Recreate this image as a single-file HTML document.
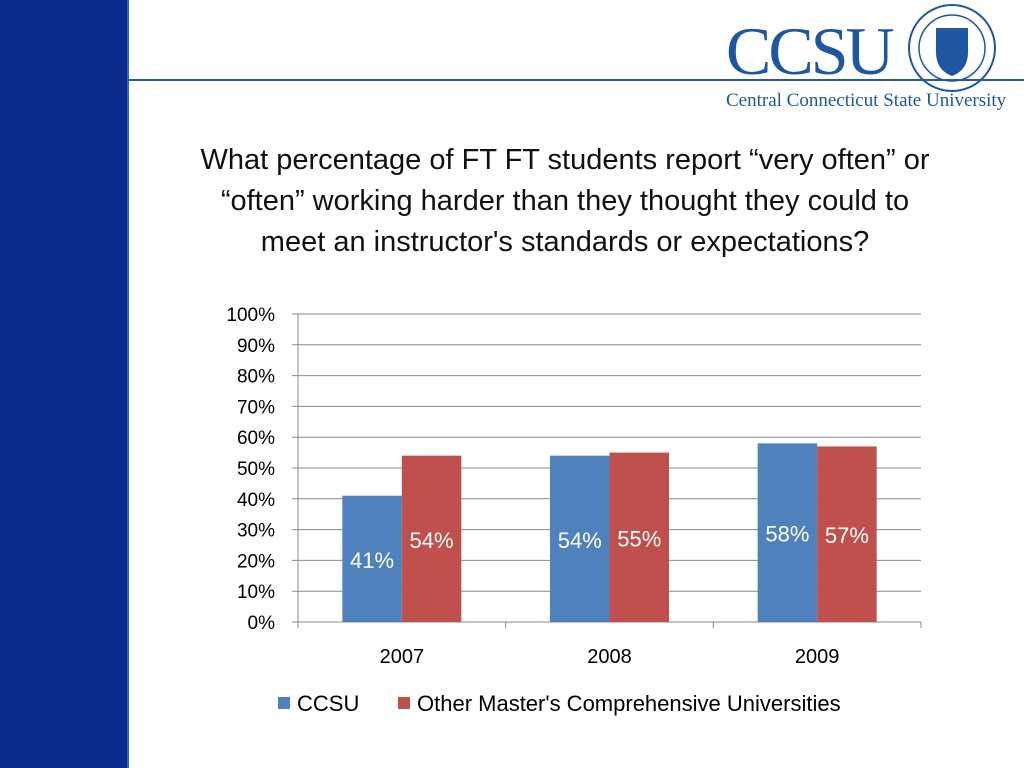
<!DOCTYPE html>
<html><head><meta charset="utf-8"><style>
body{margin:0;width:1024px;height:768px;overflow:hidden;background:#fff;font-family:"Liberation Sans",sans-serif;position:relative}
</style></head><body>
<div style="position:absolute;left:0;top:0;width:127px;height:768px;background:#0a2a8c;border-right:2px solid #3a5fb5"></div>
<div style="position:absolute;left:129px;top:79px;width:895px;height:2px;background:#2a56a5"></div>
<div style="position:absolute;left:726px;top:6px;width:300px;height:110px">
 <div style="position:absolute;left:0;top:12px;font-family:'Liberation Serif',serif;font-size:68px;color:#1f56a0;line-height:66px;letter-spacing:-3px">CCSU</div>
 <svg style="position:absolute;left:180px;top:-4px" width="92" height="92"><circle cx="46" cy="46" r="43" fill="none" stroke="#1f56a0" stroke-width="2"/><circle cx="46" cy="46" r="33" fill="none" stroke="#1f56a0" stroke-width="1.5"/><path d="M30 26 h32 v24 q0 18 -16 24 q-16 -6 -16 -24z" fill="#1f56a0"/></svg>
 <div style="position:absolute;left:0;top:84px;font-family:'Liberation Serif',serif;font-size:19px;color:#1f56a0;white-space:nowrap">Central Connecticut State University</div>
</div>
<div style="position:absolute;left:115px;top:140px;width:900px;text-align:center;font-size:29px;line-height:41px;color:#111">What percentage of FT FT students report “very often” or<br>“often” working harder than they thought they could to<br>meet an instructor's standards or expectations?</div>
<svg id="chart" width="1024" height="768" style="position:absolute;left:0;top:0"></svg>
<script>
const categories=["2007","2008","2009"];
const ccsu=[41,54,58];
const other=[54,55,57];
const ticks=[0,10,20,30,40,50,60,70,80,90,100];
const svg=document.getElementById('chart');const NS='http://www.w3.org/2000/svg';
const x0=298,x1=921,y0=622,y1=314;
const y=v=>y0-(v/100)*(y0-y1);
const cw=(x1-x0)/categories.length;
const cx=i=>x0+cw*(i+0.5);
function mk(t,a){const e=document.createElementNS(NS,t);for(const k in a)e.setAttribute(k,a[k]);svg.appendChild(e);return e;}
ticks.forEach(t=>{
 const l=mk('line',{x1:x0-6,x2:x1,y1:y(t),y2:y(t),stroke:'#888','stroke-width':1});
 
 
 const tx=mk('text',{x:275,y:y(t)+7,'text-anchor':'end','font-size':19,'font-family':'Liberation Sans, sans-serif',fill:'#000'});
 tx.textContent=t+'%';
 
 
});
const ax=mk('line',{x1:x0,x2:x0,y1:y1,y2:y0+6,stroke:'#888'});


for(let i=0;i<=categories.length;i++){const t=mk('line',{x1:x0+cw*i,x2:x0+cw*i,y1:y0,y2:y0+6,stroke:'#888'});
 
 }
const bw=59.5;
categories.forEach((c,i)=>{
 [[ccsu,'#4f81bd',-bw],[other,'#c0504d',0]].forEach(([s,col,off],k)=>{
  const v=s[i];
  const r=mk('rect',{x:cx(i)+off,y:y(v),width:bw,height:y0-y(v),fill:col});
  
  
  const t=mk('text',{x:cx(i)+off+bw/2,y:(y(v)+y0)/2+9,'text-anchor':'middle','font-size':22,'font-family':'Liberation Sans, sans-serif',fill:'#fff'});
  t.textContent=v+'%';
  
  
 });
 const t=mk('text',{x:cx(i),y:663,'text-anchor':'middle','font-size':20,'font-family':'Liberation Sans, sans-serif'});
 t.textContent=c;
 
 
});
const lg=[['CCSU','#4f81bd',278],["Other Master's Comprehensive Universities",'#c0504d',398]];
lg.forEach(([n,col,lx])=>{
 const r=mk('rect',{x:lx,y:697,width:12,height:12,fill:col});
 
 
 const t=mk('text',{x:lx+19,y:711,'font-size':22,'font-family':'Liberation Sans, sans-serif'});
 t.textContent=n;
 
 
});
</script>
</body></html>
